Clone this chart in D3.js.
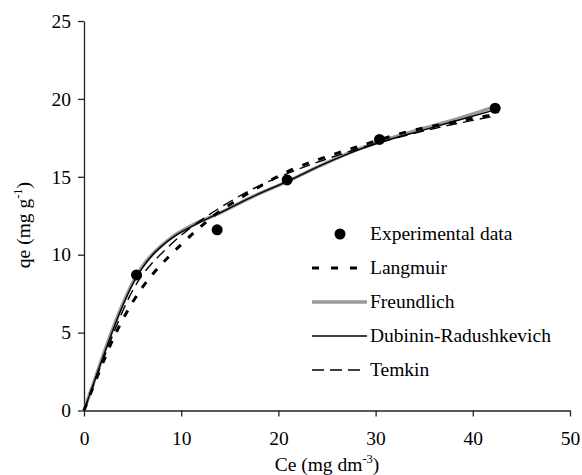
<!DOCTYPE html>
<html><head><meta charset="utf-8">
<script src="https://cdn.jsdelivr.net/npm/d3@7"></script>
<style>body{margin:0;background:#fff}svg{display:block}text{font-family:"Liberation Serif","Times New Roman",serif;fill:#000}</style>
</head><body><svg id="c" width="582" height="475"></svg>
<script>
const expC = [5.4, 13.7, 20.9, 30.4, 42.3];
const expQ = [8.7, 11.6, 14.8, 17.4, 19.4];
const drC = [0, 1, 2, 3, 4, 5, 6, 7, 8, 9, 10, 12, 13.7, 17.1, 20.9, 24.6, 28.1, 30.4, 34.9, 38.3, 42.3];
const drQ = [0, 1.75, 3.5, 5.2, 6.75, 8.1, 9.15, 9.95, 10.55, 11.05, 11.45, 12.1, 12.6, 13.65, 14.7, 15.8, 16.7, 17.2, 18.0, 18.6, 19.3];
const freundlichC = [0, 1, 2, 3, 4, 5, 6, 7, 8, 9, 10, 12, 13.7, 17.1, 20.9, 24.6, 28.1, 30.4, 34.9, 38.3, 42.3];
const freundlichQ = [0, 1.8, 3.6, 5.3, 6.85, 8.2, 9.25, 10.0, 10.6, 11.1, 11.5, 12.15, 12.6, 13.65, 14.7, 15.8, 16.75, 17.25, 18.1, 18.7, 19.5];
const langmuirC = [0, 1, 2, 3, 4, 5, 6, 7, 8, 9, 10, 12, 14, 16, 18, 21, 25, 28.5, 32.7, 38, 42.3];
const langmuirQ = [0, 1.6, 3.15, 4.6, 5.85, 6.95, 7.9, 8.7, 9.4, 10.05, 10.65, 11.8, 12.8, 13.6, 14.35, 15.35, 16.3, 17.0, 17.8, 18.5, 19.0];
const temkinC = [0, 1, 2, 3, 4, 5, 6, 7, 8.5, 10, 12, 13.7, 17, 20.9, 25, 30.4, 35, 42.3];
const temkinQ = [0, 1.65, 3.3, 4.9, 6.4, 7.7, 8.7, 9.45, 10.4, 11.25, 12.2, 12.9, 14.1, 15.2, 16.15, 17.2, 17.95, 18.9];
const xTicks = [0, 10, 20, 30, 40, 50];
const yTicks = [0, 5, 10, 15, 20, 25];
const legendLabels = ["Experimental data", "Langmuir", "Freundlich", "Dubinin-Radushkevich", "Temkin"];

const FONT = '"Liberation Serif","Times New Roman",serif';
const FS = "19.5px";
const svg = d3.select("#c");
const x = d3.scaleLinear().domain([0, 50]).range([84, 570]);
const y = d3.scaleLinear().domain([0, 25]).range([410.5, 21]);

const xAxis = svg.append("g").attr("transform", `translate(0,${y(0)})`)
  .call(d3.axisBottom(x).tickValues(xTicks).tickSize(6).tickPadding(15).tickSizeOuter(0));
const yAxis = svg.append("g").attr("transform", `translate(${x(0)},0)`)
  .call(d3.axisLeft(y).tickValues(yTicks).tickSize(6).tickPadding(7).tickSizeOuter(0));
[xAxis, yAxis].forEach(a => {
  a.attr("font-family", FONT);
  a.selectAll("path,line").attr("stroke", "#222").attr("stroke-width", 1.3);
  a.selectAll("text").style("font-family", FONT).style("font-size", FS).attr("fill", "#000");
});

const sFreund = {c: freundlichC, q: freundlichQ, stroke: "#9a9a9a", w: 3.5, dash: null, lx1: 367, ldash: null};
const sDR = {c: drC, q: drQ, stroke: "#000", w: 1.4, dash: null, lx1: 367, ldash: null};
const sTemkin = {c: temkinC, q: temkinQ, stroke: "#000", w: 1.4, dash: "11,6", lx1: 362, ldash: "12,6"};
const sLang = {c: langmuirC, q: langmuirQ, stroke: "#000", w: 3, dash: "7,10", lx1: 357, ldash: "7,12"};
const line = d3.line().x(d => x(d[0])).y(d => y(d[1])).curve(d3.curveMonotoneX);
[sFreund, sDR, sTemkin, sLang].forEach(s => {
  svg.append("path").datum(s.c.map((c, i) => [c, s.q[i]]))
    .attr("d", line).attr("fill", "none").attr("stroke", s.stroke)
    .attr("stroke-width", s.w).attr("stroke-dasharray", s.dash);
});

svg.selectAll("circle.pt").data(expC.map((c, i) => [c, expQ[i]])).enter()
  .append("circle").attr("class", "pt").attr("cx", d => x(d[0])).attr("cy", d => y(d[1]))
  .attr("r", 5.5).attr("fill", "#000");

// legend
const lg = svg.append("g");
const rows = [234, 268, 302, 336, 370];
const lx0 = 312, tx = 370;
lg.append("circle").attr("cx", 340).attr("cy", rows[0]).attr("r", 5.5).attr("fill", "#000");
const legStyles = [null, sLang, sFreund, sDR, sTemkin];
legStyles.forEach((s, i) => {
  if (s) lg.append("line").attr("x1", lx0).attr("x2", s.lx1).attr("y1", rows[i]).attr("y2", rows[i])
    .attr("stroke", s.stroke).attr("stroke-width", s.w).attr("stroke-dasharray", s.ldash);
  lg.append("text").attr("x", tx).attr("y", rows[i]).attr("dy", "0.33em")
    .style("font-family", FONT).style("font-size", FS).text(legendLabels[i]);
});

// axis titles
const xt = svg.append("text").attr("x", x(25)).attr("y", 471).attr("text-anchor", "middle")
  .style("font-family", FONT).style("font-size", FS);
xt.append("tspan").text("Ce (mg dm");
xt.append("tspan").attr("dy", -8).style("font-size", "12.5px").text("-3");
xt.append("tspan").attr("dy", 8).text(")");
const yt = svg.append("text").attr("transform", "translate(30,225) rotate(-90)").attr("text-anchor", "middle")
  .style("font-family", FONT).style("font-size", FS);
yt.append("tspan").text("qe (mg g");
yt.append("tspan").attr("dy", -8).style("font-size", "12.5px").text("-1");
yt.append("tspan").attr("dy", 8).text(")");
</script></body></html>
